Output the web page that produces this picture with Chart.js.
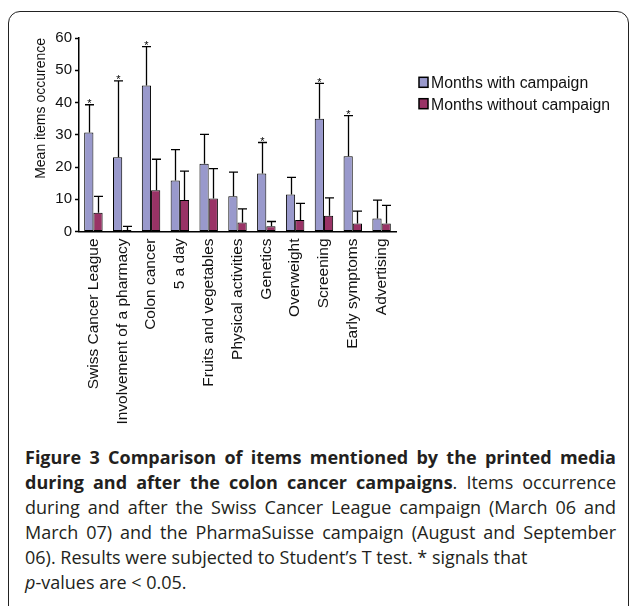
<!DOCTYPE html>
<html><head><meta charset="utf-8">
<script src="https://cdn.jsdelivr.net/npm/chart.js@4/dist/chart.umd.min.js"></script>
<style>
html,body{margin:0;padding:0;background:#fff;width:629px;height:606px;overflow:hidden;}
#frame{position:absolute;left:8px;top:11px;width:621px;height:640px;border:1.5px solid #222;border-radius:12px;box-sizing:border-box;}
#wrap{position:absolute;left:0;top:0;width:629px;height:440px;}
#cap{position:absolute;left:25px;top:445px;width:591px;font-family:"Open Sans",sans-serif;font-size:18px;line-height:25px;color:#231f20;}
#cap div{white-space:nowrap;}
#cap .j{text-align:justify;text-align-last:justify;}
</style></head>
<body>
<div id="frame"></div>
<div id="wrap"><canvas id="c"></canvas></div>
<div id="cap">
<div class="j"><b>Figure 3 Comparison of items mentioned by the printed media</b></div>
<div class="j"><b>during and after the colon cancer campaigns</b>. Items occurrence</div>
<div class="j">during and after the Swiss Cancer League campaign (March 06 and</div>
<div class="j">March 07) and the PharmaSuisse campaign (August and September</div>
<div>06). Results were subjected to Student’s T test. * signals that</div>
<div><i>p</i>-values are &lt; 0.05.</div>
</div>
<script>
const categories = ["Swiss Cancer League","Involvement of a pharmacy","Colon cancer","5 a day","Fruits and vegetables","Physical activities","Genetics","Overweight","Screening","Early symptoms","Advertising"];
const seriesLabels = ["Months with campaign","Months without campaign"];
const withCampaign = [30.7, 23.0, 45.3, 15.8, 21.0, 10.9, 18.0, 11.5, 35.0, 23.3, 4.0];
const withCampaignSD = [8.6, 23.7, 12.0, 9.6, 9.1, 7.5, 9.6, 5.3, 10.9, 12.6, 5.7];
const withoutCampaign = [5.8, 0.5, 12.8, 9.8, 10.2, 2.8, 1.6, 3.6, 4.9, 2.5, 2.5];
const withoutCampaignSD = [5.1, 1.1, 9.6, 8.9, 9.3, 4.2, 1.5, 5.1, 5.5, 3.8, 5.6];
const significant = [true, true, true, false, false, false, true, false, true, true, false];
const yMin = 0, yMax = 60, yStep = 10;

const errorBars = {
  id: 'errorBars',
  afterDatasetsDraw(chart) {
    const ctx = chart.ctx, y = chart.scales.y;
    chart.data.datasets.forEach((ds, i) => {
      const meta = chart.getDatasetMeta(i);
      meta.data.forEach((bar, j) => {
        const top = y.getPixelForValue(ds.data[j] + ds.errors[j]);
        const x = Math.round(bar.x) + 0.5;
        ctx.save();
        ctx.strokeStyle = '#000';
        ctx.lineWidth = 1.3;
        ctx.beginPath();
        ctx.moveTo(x, bar.y); ctx.lineTo(x, top);
        ctx.moveTo(x - 4.5, top); ctx.lineTo(x + 4.5, top);
        ctx.stroke();
        if (i === 0 && significant[j]) {
          ctx.fillStyle = '#000';
          ctx.font = '11px "Liberation Sans", Arial, sans-serif';
          ctx.textAlign = 'center';
          ctx.textBaseline = 'alphabetic';
          ctx.fillText('*', x, top + 2.5);
        }
        ctx.restore();
      });
    });
  }
};

const sideLegend = {
  id: 'sideLegend',
  afterDraw(chart) {
    const ctx = chart.ctx;
    chart.data.datasets.forEach((ds, i) => {
      const base = 88.3 + i * 21.4;
      ctx.save();
      ctx.fillStyle = ds.backgroundColor;
      ctx.fillRect(419, base - 11, 9, 10);
      ctx.strokeStyle = '#000';
      ctx.lineWidth = 1.5;
      ctx.strokeRect(419, base - 11, 9, 10);
      ctx.fillStyle = '#111';
      ctx.font = '15.8px "Liberation Sans", Arial, sans-serif';
      ctx.textAlign = 'left';
      ctx.textBaseline = 'alphabetic';
      ctx.fillText(ds.label, 431, base);
      ctx.restore();
    });
  }
};

new Chart(document.getElementById('c'), {
  type: 'bar',
  data: {
    labels: categories,
    datasets: [
      { label: seriesLabels[0], data: withCampaign, errors: withCampaignSD, backgroundColor: '#9999cc', borderColor: '#000', borderWidth: 1, borderSkipped: false },
      { label: seriesLabels[1], data: withoutCampaign, errors: withoutCampaignSD, backgroundColor: '#993366', borderColor: '#000', borderWidth: 1, borderSkipped: false }
    ]
  },
  options: {
    responsive: true,
    maintainAspectRatio: false,
    animation: false,
    layout: { padding: { left: 20, top: 38, right: 233, bottom: 0 } },
    datasets: { bar: { barPercentage: 1, categoryPercentage: 0.64 } },
    plugins: { legend: { display: false }, tooltip: { enabled: false } },
    scales: {
      x: {
        grid: { display: false, drawTicks: false },
        border: { display: true, color: '#000', width: 1.5 },
        ticks: { autoSkip: false, maxRotation: 90, minRotation: 90, padding: 7, color: '#111', font: { family: '"Liberation Sans", Arial, sans-serif', size: 15.5 } },
        afterFit: s => { s.height = 208.5; }
      },
      y: {
        min: yMin, max: yMax,
        grid: { drawOnChartArea: false, tickLength: 4, tickColor: '#000', tickWidth: 1.5 },
        border: { display: true, color: '#000', width: 1.5 },
        ticks: { stepSize: yStep, padding: 3, color: '#111', font: { family: '"Liberation Sans", Arial, sans-serif', size: 15 } },
        title: { display: true, text: 'Mean items occurence', align: 'end', color: '#111', padding: { top: 12.6, bottom: 0 }, font: { family: '"Liberation Sans", Arial, sans-serif', size: 14 } },
        afterFit: s => { s.width = 59; }
      }
    }
  },
  plugins: [errorBars, sideLegend]
});
</script>
</body></html>
